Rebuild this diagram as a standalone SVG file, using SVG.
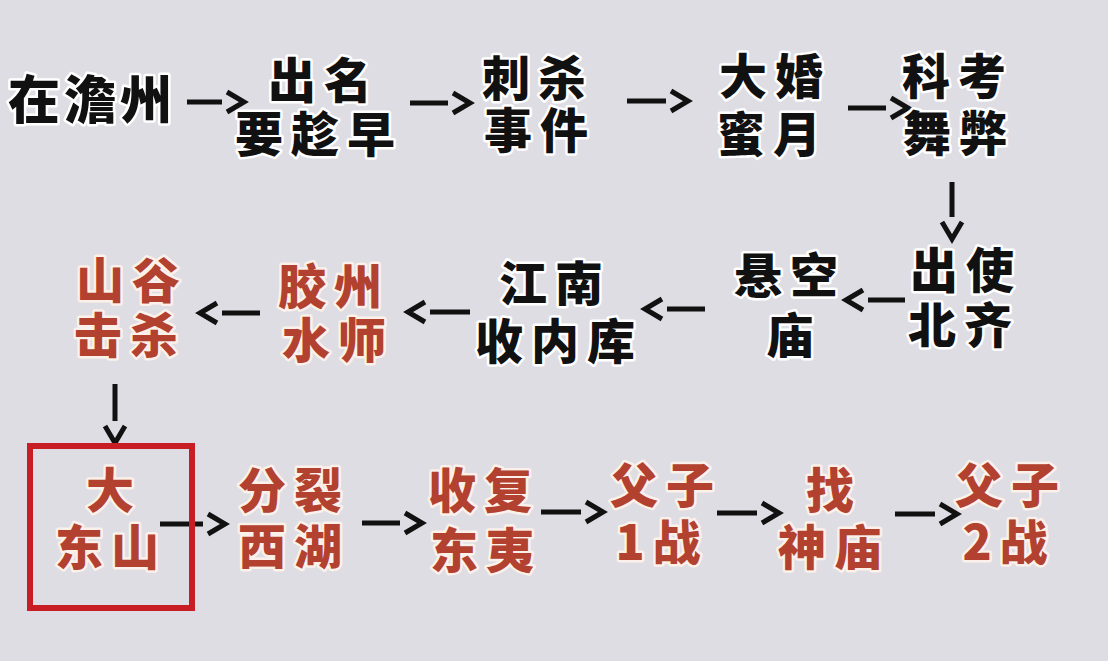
<svg xmlns="http://www.w3.org/2000/svg" width="1108" height="661" viewBox="0 0 1108 661">
<style>
text{font-family:"Noto Sans CJK SC","Noto Sans CJK JP",sans-serif;font-weight:900;font-size:48px;text-anchor:middle;letter-spacing:8px;stroke:#ffffff;stroke-width:5px;paint-order:stroke;stroke-linejoin:round}
.b{fill:#111111}
.r{fill:#b3412f;stroke:#fbf1ea}
.c{stroke:#111111;stroke-width:5;fill:none;marker-end:url(#chev)}
</style>
<defs>
<marker id="chev" markerUnits="userSpaceOnUse" markerWidth="28" markerHeight="24" refX="0" refY="10" orient="auto" overflow="visible">
<path d="M5,0 L22,10 L5,20" fill="none" stroke="#111111" stroke-width="5"/>
</marker>
</defs>
<rect width="1108" height="661" fill="#dedde3"/>
<g id="connectors">
<line class="c" x1="187" y1="102" x2="222" y2="102"/>
<line class="c" x1="410" y1="103" x2="448" y2="103"/>
<line class="c" x1="627" y1="101" x2="666" y2="101"/>
<line class="c" x1="848" y1="108" x2="886" y2="108"/>
<line class="c" x1="952" y1="182" x2="952" y2="217"/>
<line class="c" x1="905" y1="300" x2="868" y2="300"/>
<line class="c" x1="705" y1="309" x2="667" y2="309"/>
<line class="c" x1="470" y1="312" x2="430" y2="312"/>
<line class="c" x1="260" y1="313" x2="222" y2="313"/>
<line class="c" x1="115" y1="384" x2="115" y2="421"/>
<line class="c" x1="160" y1="524" x2="203" y2="524"/>
<line class="c" x1="362" y1="523" x2="400" y2="523"/>
<line class="c" x1="541" y1="512" x2="581" y2="512"/>
<line class="c" x1="717" y1="513" x2="757" y2="513"/>
<line class="c" x1="895" y1="514" x2="935" y2="514"/>
</g>
<g id="n1"><text class="b" x="92" y="119" style="font-size:52px;letter-spacing:4px">在澹州</text></g>
<g id="n2"><text class="b" x="324" y="98">出名</text><text class="b" x="319" y="152">要趁早</text></g>
<g id="n3"><text class="b" x="538" y="96">刺杀</text><text class="b" x="540" y="148">事件</text></g>
<g id="n4"><text class="b" x="775" y="94">大婚</text><text class="b" x="773" y="152">蜜月</text></g>
<g id="n5"><text class="b" x="958" y="94">科考</text><text class="b" x="959" y="151">舞弊</text></g>
<g id="n6"><text class="b" x="966" y="288">出使</text><text class="b" x="964" y="343">北齐</text></g>
<g id="n7"><text class="b" x="790" y="293">悬空</text><text class="b" x="794" y="353">庙</text></g>
<g id="n8"><text class="b" x="555" y="301">江南</text><text class="b" x="559" y="359">收内库</text></g>
<g id="n9"><text class="r" x="334" y="304">胶州</text><text class="r" x="338" y="358">水师</text></g>
<g id="n10"><text class="r" x="132" y="298">山谷</text><text class="r" x="130" y="353">击杀</text></g>
<g id="n11"><rect x="30" y="446" width="162" height="162" fill="none" stroke="#c81d24" stroke-width="6"/><text class="r" x="114" y="508">大</text><text class="r" x="111" y="565">东山</text></g>
<g id="n12"><text class="r" x="294" y="508">分裂</text><text class="r" x="294" y="564">西湖</text></g>
<g id="n13"><text class="r" x="484" y="508">收复</text><text class="r" x="486" y="568">东夷</text></g>
<g id="n14"><text class="r" x="666" y="503">父子</text><text class="r" x="662" y="560">1战</text></g>
<g id="n15"><text class="r" x="834" y="508">找</text><text class="r" x="834" y="565">神庙</text></g>
<g id="n16"><text class="r" x="1011" y="503">父子</text><text class="r" x="1009" y="560">2战</text></g>
</svg>
